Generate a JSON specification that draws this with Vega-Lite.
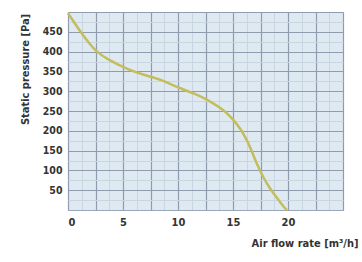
{
  "$schema": "https://vega.github.io/schema/vega-lite/v6.json",
  "width": 275,
  "height": 198,
  "autosize": {"type": "none"},
  "padding": {"left": 68, "top": 12, "right": 19, "bottom": 52},
  "background": "white",
  "config": {
    "view": {"fill": "#dfe9f1", "stroke": null},
    "font": "DejaVu Sans Condensed"
  },
  "data": {
    "values": [
      {"flow": 0, "pressure": 497},
      {"flow": 1, "pressure": 455},
      {"flow": 2, "pressure": 418},
      {"flow": 2.6, "pressure": 400},
      {"flow": 3.5, "pressure": 382},
      {"flow": 5.4, "pressure": 355},
      {"flow": 7, "pressure": 340},
      {"flow": 8.4, "pressure": 330},
      {"flow": 10.2, "pressure": 307},
      {"flow": 11.5, "pressure": 294},
      {"flow": 12.6, "pressure": 280},
      {"flow": 14, "pressure": 256},
      {"flow": 14.9, "pressure": 233},
      {"flow": 15.7, "pressure": 205},
      {"flow": 16.3, "pressure": 175},
      {"flow": 16.8, "pressure": 142},
      {"flow": 17.3, "pressure": 108},
      {"flow": 17.8, "pressure": 80},
      {"flow": 18.3, "pressure": 57},
      {"flow": 19, "pressure": 30},
      {"flow": 19.7, "pressure": 5},
      {"flow": 19.9, "pressure": 0}
    ]
  },
  "resolve": {"axis": {"x": "independent", "y": "independent"}},
  "layer": [
    {
      "mark": {"type": "line", "opacity": 0},
      "encoding": {
        "x": {
          "field": "flow", "type": "quantitative",
          "scale": {"domain": [0, 25], "nice": false},
          "axis": {
            "orient": "bottom",
            "values": [1.25, 3.75, 6.25, 8.75, 11.25, 13.75, 16.25, 18.75, 21.25, 23.75],
            "labels": false, "ticks": false, "domain": false, "title": null,
            "grid": true, "gridColor": "#c9d6e2", "gridWidth": 1
          }
        },
        "y": {
          "field": "pressure", "type": "quantitative",
          "scale": {"domain": [0, 500], "nice": false},
          "axis": {
            "orient": "left",
            "values": [25, 75, 125, 175, 225, 275, 325, 375, 425, 475],
            "labels": false, "ticks": false, "domain": false, "title": null,
            "grid": true, "gridColor": "#c9d6e2", "gridWidth": 1
          }
        }
      }
    },
    {
      "mark": {"type": "line", "color": "#c4bd5c", "strokeWidth": 2.5, "interpolate": "basis"},
      "encoding": {
        "x": {
          "field": "flow", "type": "quantitative",
          "scale": {"domain": [0, 25], "nice": false},
          "axis": {
            "orient": "bottom",
            "values": [0, 2.5, 5, 7.5, 10, 12.5, 15, 17.5, 20, 22.5, 25],
            "labelExpr": "datum.value % 5 == 0 && datum.value < 25 ? datum.label : ''",
            "grid": true, "gridColor": "#8f9cae", "gridWidth": 1.2,
            "ticks": false, "domain": true, "domainColor": "#9aa7b8",
            "labelFont": "DejaVu Sans Condensed", "labelFontWeight": "bold",
            "labelFontSize": 11, "labelColor": "#333333", "labelPadding": 6,
            "title": "Air flow rate [m³/h]",
            "titleFont": "DejaVu Sans Condensed", "titleFontWeight": "bold",
            "titleFontSize": 11, "titleColor": "#333333",
            "titleAnchor": null, "titleAlign": "right", "titleBaseline": "middle",
            "titleX": 290, "titleY": 33
          }
        },
        "y": {
          "field": "pressure", "type": "quantitative",
          "scale": {"domain": [0, 500], "nice": false},
          "axis": {
            "orient": "left",
            "values": [0, 50, 100, 150, 200, 250, 300, 350, 400, 450, 500],
            "labelExpr": "datum.value > 0 && datum.value < 500 ? datum.label : ''",
            "grid": true, "gridColor": "#8f9cae", "gridWidth": 1.2,
            "ticks": false, "domain": false,
            "labelFont": "DejaVu Sans Condensed", "labelFontWeight": "bold",
            "labelFontSize": 10.5, "labelColor": "#333333", "labelPadding": 6,
            "title": "Static pressure [Pa]",
            "titleFont": "DejaVu Sans Condensed", "titleFontWeight": "bold",
            "titleFontSize": 11, "titleColor": "#333333",
            "titleAngle": 270, "titleAlign": "center", "titleBaseline": "middle",
            "titleX": -43, "titleY": 57
          }
        }
      }
    }
  ]
}
